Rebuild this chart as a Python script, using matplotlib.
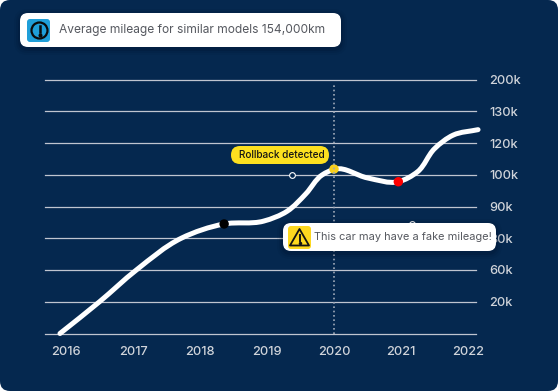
import matplotlib
matplotlib.use('Agg')
import matplotlib.pyplot as plt
import numpy as np
from matplotlib.patches import FancyBboxPatch, Circle, Polygon, PathPatch
from matplotlib.path import Path

plt.rcParams['font.family'] = ['Inter', 'DejaVu Sans']

NAVY = '#05284f'
TICK = '#d0d4da'

# data
years = [2016, 2017, 2018, 2019, 2020, 2021, 2022]
levels = [0, 1, 2, 3, 4, 5, 6, 7, 8]
level_labels = ['', '20k', '60k', '80k', '90k', '100k', '120k', '130k', '200k']

# level = gridline index, the labels on the axis are not evenly spaced
curve_year = [2015.91, 2016.5, 2017.05, 2017.72, 2018.36, 2018.95,
              2019.3, 2019.58, 2019.82, 2020.02, 2020.5, 2020.96, 2021.25,
              2021.5, 2021.78, 2022.15]
curve_level = [0.0, 1.0, 2.0, 3.0, 3.45, 3.54,
               3.85, 4.4, 4.99, 5.18, 4.9, 4.78, 5.1,
               5.82, 6.25, 6.42]

dot_year = [2018.36, 2020.0, 2020.96]
dot_level = [3.45, 5.18, 4.78]
dot_color = ['#000000', '#f7cf1d', '#ff0000']

hollow_year = [2019.37, 2021.16]
hollow_level = [4.98, 3.46]

fig = plt.figure(figsize=(5.58, 3.91), dpi=100)
fig.patch.set_facecolor('white')

# panel + cards are laid out in pixels on a full size overlay
bg = fig.add_axes([0, 0, 1, 1], zorder=0)
bg.set_xlim(0, 558)
bg.set_ylim(391, 0)
bg.axis('off')
bg.add_patch(FancyBboxPatch((0, 0), 558, 391, boxstyle='round,pad=0,rounding_size=10',
                            fc=NAVY, ec='none'))

ax = fig.add_axes([45 / 558, 1 - 333.5 / 391, 431 / 558, 254 / 391], zorder=1)
ax.patch.set_visible(False)
for s in ax.spines.values():
    s.set_visible(False)
ax.set_xlim(2016 + (45 - 66) / 67, 2016 + (476 - 66) / 67)
ax.set_ylim(0, 8)

ax.set_xticks(years)
ax.set_yticks(levels)
ax.set_yticklabels(level_labels)
ax.yaxis.tick_right()
ax.tick_params(axis='both', length=0, colors=TICK, labelsize=9.2)
ax.tick_params(axis='x', pad=9)
ax.tick_params(axis='y', pad=9.4)
for lab in ax.get_xticklabels() + ax.get_yticklabels():
    lab.set_fontweight('medium')
ax.grid(axis='y', color='#c0c5d0', lw=0.9, zorder=1)
for line in ax.get_ygridlines():
    line.set_clip_on(False)

ax.axvline(2020.0, ymax=0.985, color='#9fa9b8', lw=1.2, ls=(0, (1, 1.6)), zorder=5)

# smooth line through the read points: cubic segments, tangents from chord lengths
pts = np.column_stack([curve_year, curve_level])
chord = np.hypot(np.diff(pts[:, 0]) * 67, np.diff(pts[:, 1]) * 31.75)
t = np.concatenate([[0], np.cumsum(chord)])
tang = np.gradient(pts, t, axis=0)
verts = [tuple(pts[0])]
codes = [Path.MOVETO]
for i in range(len(pts) - 1):
    verts.append(tuple(pts[i] + tang[i] * chord[i] / 3))
    verts.append(tuple(pts[i + 1] - tang[i + 1] * chord[i] / 3))
    verts.append(tuple(pts[i + 1]))
    codes += [Path.CURVE4, Path.CURVE4, Path.CURVE4]
ax.add_patch(PathPatch(Path(verts, codes), fc='none', ec='white', lw=3.6, capstyle='round',
                       joinstyle='round', clip_on=False, zorder=3))

ax.scatter(dot_year, dot_level, c=dot_color, s=46, linewidths=0, clip_on=False, zorder=4)
ax.scatter(hollow_year, hollow_level, fc=NAVY, ec='white', s=17, linewidths=0.8, zorder=2)

top = fig.add_axes([0, 0, 1, 1], zorder=2)
top.set_xlim(0, 558)
top.set_ylim(391, 0)
top.axis('off')


def card(x, y, w, h, r, color, shadow=True):
    if shadow:
        for grow, alpha in [(6, 0.06), (4, 0.08), (2, 0.12)]:
            top.add_patch(FancyBboxPatch((x - grow, y - grow + 2), w + 2 * grow, h + 2 * grow,
                                         boxstyle='round,pad=0,rounding_size=%d' % (r + grow),
                                         fc='#000a1e', ec='none', alpha=alpha))
    top.add_patch(FancyBboxPatch((x, y), w, h, boxstyle='round,pad=0,rounding_size=%d' % r,
                                 fc=color, ec='none'))


# top card
card(20, 13, 321, 34, 8, 'white')
card(27, 19, 23, 23, 3, '#1f9fd9', shadow=False)
top.add_patch(Circle((39.5, 30.5), 8, fc='none', ec='#0b0b0b', lw=1.6))
top.plot([39.5, 39.5], [26, 31.5], color='#0b0b0b', lw=1.8)
top.plot([39.5], [34.7], 'o', color='#0b0b0b', ms=1.9)
top.text(59, 29.5, 'Average mileage for similar models 154,000km', fontsize=8.64,
         color='#55585f', va='center', ha='left')

# rollback pill
card(231, 146, 98, 18, 9, '#fde01f', shadow=False)
top.text(239, 155.5, 'Rollback detected', fontsize=7.2, color='#141414', va='center', ha='left',
         fontweight='medium')

# warning card
card(283, 223, 213, 28, 8, 'white')
card(288, 226, 23, 23, 3, '#fdd81f', shadow=False)
top.add_patch(Polygon([(299.5, 229), (309, 245.5), (290, 245.5)], closed=True, fc='none',
                      ec='#141414', lw=1.3, joinstyle='round'))
top.plot([299.5, 299.5], [234.5, 241], color='#141414', lw=1.4)
top.plot([299.5], [243.3], 'o', color='#141414', ms=1.5)
top.text(314.5, 237, 'This car may have a fake mileage!', fontsize=7.9, color='#55585f',
         va='center', ha='left')

fig.savefig('out.png', dpi=100, facecolor='white')
